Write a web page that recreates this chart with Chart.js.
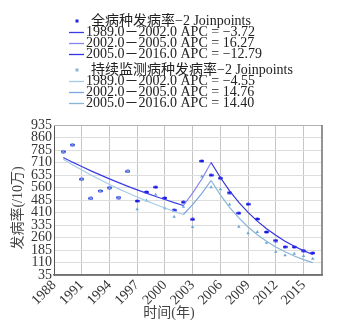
<!DOCTYPE html>
<html>
<head>
<meta charset="utf-8">
<script src="https://cdn.jsdelivr.net/npm/chart.js@4.4.1/dist/chart.umd.min.js"></script>
<style>
  body { margin: 0; background: #fff; }
  canvas { display: block; }
</style>
</head>
<body>
<canvas id="incidenceChart" width="355" height="325"></canvas>
<script>
// 年份与发病率（/10万）
const years = [1989,1990,1991,1992,1993,1994,1995,1996,1997,1998,1999,2000,2001,2002,
               2003,2004,2005,2006,2007,2008,2009,2010,2011,2012,2013,2014,2015,2016];
const allRate = [775,816,610,495,539,559,500,657,479,533,562,497,424,472,
                 369,719,634,616,529,406,460,371,293,242,204,203,181,167];
const monitoredRate = [775,816,610,495,539,559,500,657,430,482,517,436,384,444,
                       323,626,561,549,458,325,286,293,228,175,153,163,149,133];
// Joinpoint 拟合值
const allFit = [740,712,686,660,636,612,589,567,546,526,506,488,469,452,
                526,611,710,620,540,471,411,358,313,273,238,207,181,158];
const monitoredFit = [730,697,665,635,606,578,552,527,503,480,458,437,417,398,
                      457,525,602,516,441,378,323,277,237,203,174,149,127,109];

const seriesNames = ['全病种发病率−2 Joinpoints', '持续监测病种发病率−2 Joinpoints'];
const segmentRanges = ['1989.0－2002.0', '2002.0－2005.0', '2005.0－2016.0'];
const joinpoints = [2002, 2005];
const allApc = ['−3.72', '16.27', '−12.79'];
const monitoredApc = ['−4.55', '14.76', '14.40'];
const xTicks = [1988,1991,1994,1997,2000,2003,2006,2009,2012,2015];

const allSegColors = ['#3b3be6', '#8585ee', '#3434e0'];
const monSegColors = ['#a6cbe6', '#78a6de', '#88b6d8'];
const FONT = '"Liberation Serif", "Noto Sans CJK SC", serif';

const toPoints = arr => years.map((y, i) => ({ x: y, y: arr[i] }));
const segIndex = x => x < joinpoints[0] ? 0 : (x < joinpoints[1] ? 1 : 2);

// 小椭圆点
const dot = document.createElement('canvas');
dot.width = 5; dot.height = 4;
const dctx = dot.getContext('2d');
dctx.fillStyle = '#1a1ae8';
dctx.beginPath();
dctx.ellipse(2.5, 2, 2.5, 1.6, 0, 0, Math.PI * 2);
dctx.fill();

// 边框、坐标轴标题和图例
const decor = {
  id: 'decor',
  afterDraw(chart) {
    const { ctx, chartArea: a } = chart;
    ctx.save();
    ctx.lineWidth = 1;
    ctx.strokeStyle = '#b0b0b0';
    ctx.beginPath();
    ctx.moveTo(a.left, a.top + 0.5); ctx.lineTo(a.right, a.top + 0.5);
    ctx.stroke();
    ctx.strokeStyle = '#707070';
    ctx.lineWidth = 1.5;
    ctx.beginPath();
    ctx.moveTo(a.right, a.top); ctx.lineTo(a.right, a.bottom);
    ctx.lineTo(a.left, a.bottom);
    ctx.stroke();

    ctx.fillStyle = '#444';
    ctx.font = '14px ' + FONT;
    ctx.textAlign = 'center';
    ctx.textBaseline = 'middle';
    ctx.fillText('时间(年)', 169, 313);
    ctx.save();
    ctx.translate(18, 208);
    ctx.rotate(-Math.PI / 2);
    ctx.fillText('发病率(/10万)', 0, 0);
    ctx.restore();

    // 图例
    ctx.textAlign = 'left';
    ctx.fillStyle = '#222';
    const groups = [
      { name: seriesNames[0], apc: allApc, colors: allSegColors, mark: '#2020e0', y: 21 },
      { name: seriesNames[1], apc: monitoredApc, colors: monSegColors, mark: '#8fb3d6', y: 70 }
    ];
    groups.forEach(g => {
      ctx.fillStyle = g.mark;
      ctx.fillRect(75.5, g.y - 1.5, 3, 3);
      ctx.fillStyle = '#222';
      ctx.fillText(g.name, 91, g.y);
      segmentRanges.forEach((r, i) => {
        const y = g.y + 11.5 + i * 11;
        ctx.strokeStyle = g.colors[i];
        ctx.lineWidth = 1.3;
        ctx.beginPath();
        ctx.moveTo(69, y); ctx.lineTo(84, y);
        ctx.stroke();
        ctx.fillText(r + ' APC = ' + g.apc[i], 86, y);
      });
    });
    ctx.restore();
  }
};

const ctx = document.getElementById('incidenceChart').getContext('2d');
Chart.defaults.font.family = FONT;

new Chart(ctx, {
  type: 'scatter',
  data: {
    datasets: [
      {
        label: seriesNames[1] + ' fit', data: toPoints(monitoredFit), showLine: true,
        pointRadius: 0, borderWidth: 1.2, borderColor: monSegColors[0],
        segment: { borderColor: c => monSegColors[segIndex(c.p0.parsed.x)] }
      },
      {
        label: seriesNames[0] + ' fit', data: toPoints(allFit), showLine: true,
        pointRadius: 0, borderWidth: 1.2, borderColor: allSegColors[0],
        segment: { borderColor: c => allSegColors[segIndex(c.p0.parsed.x)] }
      },
      {
        label: seriesNames[1], data: toPoints(monitoredRate),
        pointStyle: 'triangle', pointRadius: 2, borderWidth: 0,
        backgroundColor: '#6aa6d6'
      },
      {
        label: seriesNames[0], data: toPoints(allRate),
        pointStyle: dot, pointRadius: 3
      }
    ]
  },
  options: {
    responsive: false,
    animation: false,
    layout: { padding: { top: 125, right: 33, left: 0, bottom: 0 } },
    plugins: { legend: { display: false }, tooltip: { enabled: false } },
    scales: {
      x: {
        type: 'linear', min: 1988, max: 2017,
        afterBuildTicks: s => { s.ticks = xTicks.map(v => ({ value: v })); },
        afterFit: s => { s.height = 50; },
        ticks: {
          autoSkip: false, minRotation: 45, maxRotation: 45, padding: 2,
          color: '#333', font: { size: 14 }, callback: v => String(v)
        },
        grid: { color: '#c6c6c6', drawTicks: false },
        border: { color: '#707070', width: 1.5 }
      },
      y: {
        min: 35, max: 935,
        ticks: {
          stepSize: 75, autoSkip: false, padding: 2, color: '#333',
          font: { size: 14, lineHeight: 1 }
        },
        afterFit: s => { s.width = 54; },
        grid: { color: '#dddddd', drawTicks: false },
        border: { color: '#555', width: 1 }
      }
    }
  },
  plugins: [decor]
});
</script>
</body>
</html>
